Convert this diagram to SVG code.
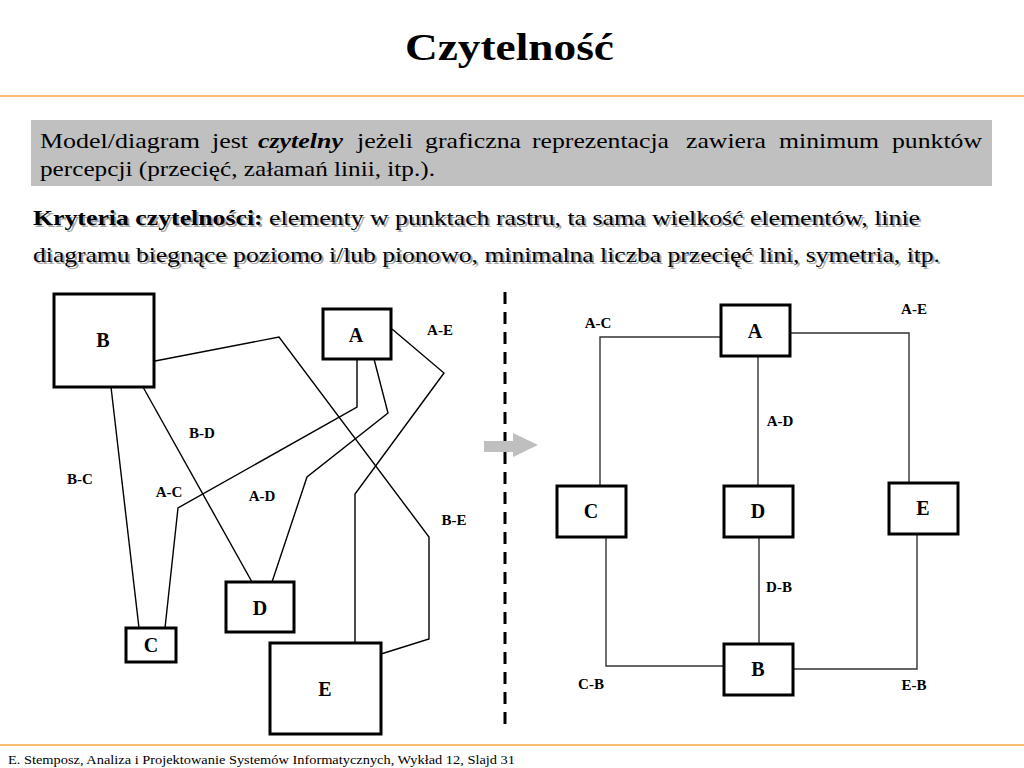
<svg xmlns="http://www.w3.org/2000/svg" width="1024" height="768" viewBox="0 0 1024 768">
<style>
text{font-family:"Liberation Serif","Times New Roman",serif}
.t{fill:#000}
.sh{fill:#a8a8a8}
.box{fill:#fff;stroke:#000;stroke-width:3}
.nl{font-weight:bold;font-size:20px;text-anchor:middle;dominant-baseline:central}
.el{font-weight:bold;font-size:15px;text-anchor:middle;dominant-baseline:central}
.c{fill:none;stroke:#000;stroke-width:1.4}
.c2{fill:none;stroke:#333;stroke-width:1.4}
.orange{stroke:#f5a640;stroke-width:1.5}
</style>
<rect width="1024" height="768" fill="#fff"/>
<text class="t" x="405" y="60" font-size="38" font-weight="bold" textLength="209" lengthAdjust="spacingAndGlyphs">Czytelność</text>
<line class="orange" x1="0" y1="96" x2="1024" y2="96"/>
<rect x="31" y="120" width="961" height="66" fill="#c0c0c0"/>
<g class="t" font-size="22">
<text x="40" y="148" textLength="160" lengthAdjust="spacingAndGlyphs">Model/diagram</text>
<text x="212" y="148" textLength="36" lengthAdjust="spacingAndGlyphs">jest</text>
<text x="258" y="148" textLength="85" lengthAdjust="spacingAndGlyphs" font-weight="bold" font-style="italic">czytelny</text>
<text x="357" y="148" textLength="56" lengthAdjust="spacingAndGlyphs">jeżeli</text>
<text x="425" y="148" textLength="96" lengthAdjust="spacingAndGlyphs">graficzna</text>
<text x="532" y="148" textLength="137" lengthAdjust="spacingAndGlyphs">reprezentacja</text>
<text x="686" y="148" textLength="80" lengthAdjust="spacingAndGlyphs">zawiera</text>
<text x="779" y="148" textLength="100" lengthAdjust="spacingAndGlyphs">minimum</text>
<text x="892" y="148" textLength="90" lengthAdjust="spacingAndGlyphs">punktów</text>
<text x="40" y="176" textLength="395" lengthAdjust="spacingAndGlyphs">percepcji (przecięć, załamań linii, itp.).</text>
</g>
<g class="sh" font-size="22">
<text x="35" y="227" textLength="887" lengthAdjust="spacingAndGlyphs"><tspan font-weight="bold">Kryteria czytelności:</tspan> elementy w punktach rastru, ta sama wielkość elementów, linie</text>
<text x="35" y="264" textLength="907" lengthAdjust="spacingAndGlyphs">diagramu biegnące poziomo i/lub pionowo, minimalna liczba przecięć lini, symetria, itp.</text>
</g>
<g class="t" font-size="22">
<text x="33" y="225" textLength="887" lengthAdjust="spacingAndGlyphs"><tspan font-weight="bold">Kryteria czytelności:</tspan> elementy w punktach rastru, ta sama wielkość elementów, linie</text>
<text x="33" y="262" textLength="907" lengthAdjust="spacingAndGlyphs">diagramu biegnące poziomo i/lub pionowo, minimalna liczba przecięć lini, symetria, itp.</text>
</g>

<line x1="505" y1="292" x2="505" y2="730" stroke="#000" stroke-width="3" stroke-dasharray="12 8"/>
<polygon points="484,441 513,441 513,433 538,445 513,457 513,452 484,452" fill="#bfbfbf"/>

<g id="connectors-left">
<polyline class="c" points="155,361 279,337 429,537 429,639 381,654"/>
<polyline class="c" points="357,359 357,407 178,508 165,628"/>
<polyline class="c" points="374,359 388,413 307,477 272,582"/>
<polyline class="c" points="392,329 444,373 355,494 355,643"/>
<line class="c" x1="111" y1="387" x2="139" y2="628"/>
<line class="c" x1="143" y1="387" x2="252" y2="582"/>
<text class="el" x="440" y="330">A-E</text>
<text class="el" x="202" y="433">B-D</text>
<text class="el" x="80" y="479">B-C</text>
<text class="el" x="169" y="492">A-C</text>
<text class="el" x="262" y="496">A-D</text>
<text class="el" x="454" y="520">B-E</text>
</g>
<g id="L-B"><rect class="box" x="54" y="294" width="100" height="93"/><text class="nl" x="103" y="340">B</text></g>
<g id="L-A"><rect class="box" x="323" y="309" width="68" height="50"/><text class="nl" x="356" y="335">A</text></g>
<g id="L-D"><rect class="box" x="226" y="582" width="68" height="50"/><text class="nl" x="260" y="608">D</text></g>
<g id="L-C"><rect class="box" x="126" y="628" width="50" height="34"/><text class="nl" x="151" y="645">C</text></g>
<g id="L-E"><rect class="box" x="270" y="643" width="111" height="91"/><text class="nl" x="325" y="689">E</text></g>

<g id="connectors-right">
<polyline class="c2" points="721,337 600,337 600,486"/>
<polyline class="c2" points="790,333 909,333 909,483"/>
<line class="c2" x1="758" y1="356" x2="758" y2="486"/>
<line class="c2" x1="759" y1="537" x2="759" y2="644"/>
<polyline class="c2" points="606,537 606,666 724,666"/>
<polyline class="c2" points="917,534 917,669 793,669"/>
<text class="el" x="598" y="323">A-C</text>
<text class="el" x="914" y="309">A-E</text>
<text class="el" x="780" y="421">A-D</text>
<text class="el" x="779" y="587">D-B</text>
<text class="el" x="591" y="684">C-B</text>
<text class="el" x="914" y="685">E-B</text>
</g>
<g id="R-A"><rect class="box" x="721" y="305" width="69" height="51"/><text class="nl" x="755" y="331">A</text></g>
<g id="R-C"><rect class="box" x="557" y="486" width="69" height="51"/><text class="nl" x="591" y="511">C</text></g>
<g id="R-D"><rect class="box" x="724" y="486" width="69" height="51"/><text class="nl" x="758" y="511">D</text></g>
<g id="R-E"><rect class="box" x="889" y="483" width="69" height="51"/><text class="nl" x="923" y="508">E</text></g>
<g id="R-B"><rect class="box" x="724" y="644" width="69" height="51"/><text class="nl" x="758" y="669">B</text></g>

<line class="orange" x1="0" y1="745" x2="1024" y2="745"/>
<text class="t" x="8" y="764" font-size="13" textLength="507" lengthAdjust="spacingAndGlyphs">E. Stemposz, Analiza i Projektowanie Systemów Informatycznych, Wykład 12, Slajd 31</text>
</svg>
